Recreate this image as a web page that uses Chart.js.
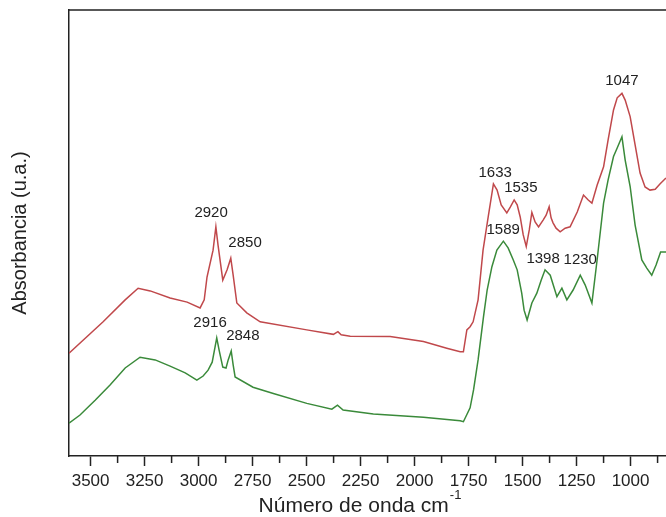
<!DOCTYPE html>
<html>
<head>
<meta charset="utf-8">
<script src="https://cdn.jsdelivr.net/npm/chart.js@4.4.0/dist/chart.umd.min.js"></script>
<style>
  html, body { margin: 0; padding: 0; background: #fff; }
</style>
</head>
<body>
<canvas id="chFtir" width="666" height="517"></canvas>
<script>
// FTIR spectra, x = wavenumber (cm-1), y = absorbance (arbitrary units)

// upper (red) spectrum
var redWn = [3600, 3442, 3340, 3280, 3224, 3132, 3053, 2993, 2974, 2961, 2933, 2920, 2910, 2888, 2868, 2851,
    2840, 2823, 2777, 2715, 2499, 2376, 2355, 2340, 2298, 2113, 1959, 1851, 1789, 1774, 1758, 1743, 1729,
    1706, 1683, 1659, 1635, 1618, 1599, 1573, 1557, 1539, 1525, 1511, 1497, 1483, 1469, 1457, 1442, 1426,
    1405, 1391, 1377, 1368, 1359, 1345, 1326, 1303, 1280, 1247, 1218, 1196, 1179, 1155, 1125, 1104, 1079,
    1062, 1040, 1025, 1002, 979, 956, 933, 910, 886, 863, 836];
var redAbs = [0.234, 0.304, 0.353, 0.379, 0.373, 0.357, 0.348, 0.335, 0.353, 0.404, 0.464, 0.516, 0.475, 0.397, 0.420, 0.446,
    0.408, 0.346, 0.324, 0.304, 0.286, 0.276, 0.282, 0.275, 0.272, 0.271, 0.260, 0.245, 0.237, 0.237, 0.286, 0.293, 0.304,
    0.353, 0.464, 0.539, 0.612, 0.598, 0.565, 0.547, 0.560, 0.576, 0.565, 0.538, 0.498, 0.472, 0.509, 0.548, 0.527, 0.516,
    0.531, 0.542, 0.561, 0.536, 0.525, 0.513, 0.505, 0.513, 0.516, 0.549, 0.587, 0.576, 0.569, 0.609, 0.650, 0.710, 0.777,
    0.804, 0.814, 0.799, 0.762, 0.699, 0.636, 0.605, 0.598, 0.600, 0.612, 0.625];

// lower (green) spectrum
var greenWn = [3600, 3549, 3479, 3410, 3340, 3271, 3201, 3132, 3062, 3008, 2979, 2956, 2937, 2916, 2905, 2888,
    2873, 2863, 2849, 2840, 2831, 2748, 2654, 2499, 2383, 2357, 2331, 2191, 1959, 1789, 1774, 1743, 1727,
    1706, 1681, 1664, 1642, 1619, 1589, 1567, 1543, 1525, 1504, 1493, 1479, 1457, 1434, 1414, 1396, 1372,
    1341, 1318, 1295, 1266, 1233, 1210, 1179, 1155, 1125, 1104, 1079, 1062, 1040, 1025, 1002, 979, 948,
    925, 902, 882, 861, 836];
var greenAbs = [0.078, 0.096, 0.129, 0.163, 0.201, 0.225, 0.219, 0.205, 0.190, 0.174, 0.183, 0.196, 0.214, 0.268, 0.241, 0.203,
    0.201, 0.219, 0.239, 0.208, 0.181, 0.158, 0.144, 0.122, 0.109, 0.118, 0.107, 0.098, 0.091, 0.083, 0.081, 0.112, 0.152,
    0.219, 0.315, 0.375, 0.427, 0.464, 0.484, 0.469, 0.442, 0.420, 0.368, 0.330, 0.308, 0.346, 0.368, 0.397, 0.420, 0.408,
    0.360, 0.379, 0.353, 0.375, 0.408, 0.386, 0.346, 0.442, 0.569, 0.621, 0.673, 0.692, 0.717, 0.665, 0.606, 0.520, 0.442,
    0.424, 0.408, 0.431, 0.460, 0.460];

// axis ticks
var majorTicks = [3500, 3250, 3000, 2750, 2500, 2250, 2000, 1750, 1500, 1250, 1000];
var minorTicks = [3375, 3125, 2875, 2625, 2375, 2125, 1875, 1625, 1375, 1125, 875];

// peak labels and where they sit
var peakLabels = ['2920', '2850', '2916', '2848', '1633', '1535', '1589', '1398', '1230', '1047'];
var peakWn = [2942, 2785, 2947, 2795, 1627, 1508, 1590, 1405, 1233, 1040];
var peakAbs = [0.547, 0.480, 0.301, 0.272, 0.636, 0.603, 0.509, 0.444, 0.442, 0.842];

var fontFamily = '"Liberation Sans", Arial, Helvetica, sans-serif';

function toPoints(xs, ys) {
    return xs.map(function(x, i) { return { x: x, y: ys[i] }; });
}

// frame top, minor ticks, peak labels and the x title with superscript
var extrasPlugin = {
    id: 'extras',
    afterDraw: function(chart) {
        var ctx = chart.ctx;
        var area = chart.chartArea;
        var xs = chart.scales.x;
        var ys = chart.scales.y;
        ctx.save();

        ctx.strokeStyle = '#222';
        ctx.lineWidth = 1.5;
        ctx.beginPath();
        ctx.moveTo(area.left - 0.75, area.top);
        ctx.lineTo(area.right, area.top);
        minorTicks.forEach(function(v) {
            var px = xs.getPixelForValue(v);
            ctx.moveTo(px, area.bottom);
            ctx.lineTo(px, area.bottom + 7);
        });
        ctx.stroke();

        ctx.fillStyle = '#222';
        ctx.font = '15px ' + fontFamily;
        ctx.textAlign = 'center';
        ctx.textBaseline = 'middle';
        peakLabels.forEach(function(t, i) {
            ctx.fillText(t, xs.getPixelForValue(peakWn[i]), ys.getPixelForValue(peakAbs[i]));
        });

        var main = 'Número de onda cm';
        var sup = '-1';
        ctx.font = '21px ' + fontFamily;
        var w1 = ctx.measureText(main).width;
        ctx.font = '13px ' + fontFamily;
        var w2 = ctx.measureText(sup).width;
        var x0 = (area.left + area.right) / 2 - 8 - (w1 + w2) / 2;
        ctx.textAlign = 'left';
        ctx.textBaseline = 'alphabetic';
        ctx.font = '21px ' + fontFamily;
        ctx.fillText(main, x0, 512);
        ctx.font = '13px ' + fontFamily;
        ctx.fillText(sup, x0 + w1 + 1, 499);

        ctx.restore();
    }
};

var chFtir = document.getElementById('chFtir');
new Chart(chFtir, {
    type: 'line',
    data: {
        datasets: [{
            data: toPoints(redWn, redAbs),
            borderColor: '#c0484b',
            borderWidth: 1.5,
            pointRadius: 0,
            tension: 0
        }, {
            data: toPoints(greenWn, greenAbs),
            borderColor: '#3a8a3a',
            borderWidth: 1.5,
            pointRadius: 0,
            tension: 0
        }]
    },
    options: {
        responsive: false,
        animation: false,
        layout: { padding: { top: 10, right: 0, left: 0, bottom: 0 } },
        plugins: { legend: { display: false }, tooltip: { enabled: false } },
        scales: {
            x: {
                type: 'linear',
                reverse: true,
                min: 836,
                max: 3600,
                afterBuildTicks: function(scale) {
                    scale.ticks = majorTicks.map(function(v) { return { value: v }; });
                },
                afterFit: function(scale) { scale.height = 61; },
                grid: { drawOnChartArea: false, drawTicks: true, tickLength: 10, tickColor: '#222', tickWidth: 1.5 },
                border: { display: true, color: '#222', width: 1.5 },
                ticks: {
                    color: '#222',
                    padding: 5,
                    maxRotation: 0,
                    autoSkip: false,
                    font: { family: fontFamily, size: 17 },
                    callback: function(v) { return String(v); }
                }
            },
            y: {
                min: 0.0045,
                max: 1.0,
                afterFit: function(scale) { scale.width = 69; },
                grid: { display: false },
                border: { display: true, color: '#222', width: 1.5 },
                ticks: { display: false },
                title: {
                    display: true,
                    text: 'Absorbancia (u.a.)',
                    color: '#222',
                    padding: { top: 8, bottom: 0 },
                    font: { family: fontFamily, size: 20 }
                }
            }
        }
    },
    plugins: [extrasPlugin]
});
</script>
</body>
</html>
